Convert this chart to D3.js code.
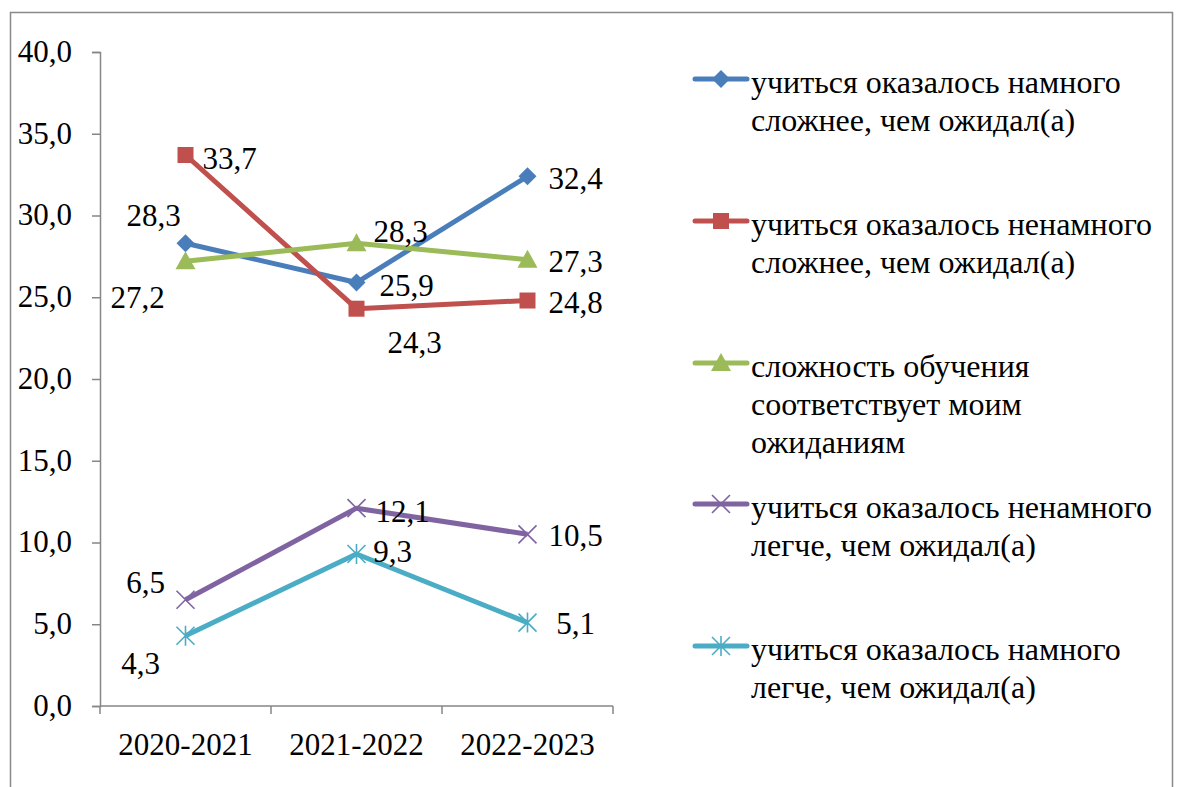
<!DOCTYPE html>
<html>
<head>
<script src="https://cdn.jsdelivr.net/npm/d3@7"></script>
</head>
<body style="margin:0">
<div id="chart"></div>
<script>
// data
var years = ["2020-2021", "2021-2022", "2022-2023"];
var seriesNames = [
  ["учиться оказалось намного", "сложнее, чем ожидал(а)"],
  ["учиться оказалось ненамного", "сложнее, чем ожидал(а)"],
  ["сложность обучения", "соответствует моим", "ожиданиям"],
  ["учиться оказалось ненамного", "легче, чем ожидал(а)"],
  ["учиться оказалось намного", "легче, чем ожидал(а)"]
];
var muchHarder = [28.3, 25.9, 32.4];
var slightlyHarder = [33.7, 24.3, 24.8];
var asExpected = [27.2, 28.3, 27.3];
var slightlyEasier = [6.5, 12.1, 10.5];
var muchEasier = [4.3, 9.3, 5.1];
var yTicks = [0, 5, 10, 15, 20, 25, 30, 35, 40];

var colors = ["#4A7EBB", "#C0504D", "#9BBB59", "#8064A2", "#4BACC6"];
var markers = ["diamond", "square", "triangle", "x", "star"];
// label offsets (dx, dy) relative to each point
var labelOffsets = [
  [[-32, -28], [50, 3], [48, 2]],
  [[44, 3], [58, 33], [48, 2]],
  [[-48, 36], [44, -12], [48, 1]],
  [[-40, -18], [46, 3], [48, 1]],
  [[-45, 27], [36, -3], [48, 1]]
];

var allSeries = [muchHarder, slightlyHarder, asExpected, slightlyEasier, muchEasier];
var FONT = "Liberation Serif";

var W = 1184, H = 787;
var svg = d3.select("#chart").append("svg")
    .attr("width", W)
    .attr("height", H);

// text drawn at 40px and scaled down to the wanted size
function addText(parent, px, py, str, size, anchor, dy) {
  var k = size / 40;
  parent.append("g")
      .attr("transform", "translate(" + px + "," + py + ") scale(" + k + ")")
    .append("text")
      .attr("dy", dy || 0)
      .attr("text-anchor", anchor || "start")
      .attr("font-family", FONT)
      .attr("font-size", 40)
      .attr("fill", "#000")
      .text(str);
}

// outer frame
svg.append("rect")
    .attr("x", 10.5).attr("y", 12.5)
    .attr("width", 1162).attr("height", 820)
    .attr("fill", "none")
    .attr("stroke", "#898989")
    .attr("stroke-width", 1.5);

var plot = {left: 100, right: 613, top: 52, bottom: 706};

var y = d3.scaleLinear()
    .domain([0, 40])
    .range([plot.bottom, plot.top]);

var x = d3.scaleBand()
    .domain(years)
    .range([plot.left, plot.right])
    .padding(0);

function cx(c) { return x(c) + x.bandwidth() / 2; }

var fmt = function(v) { return d3.format(".1f")(v).replace(".", ","); };

// y axis
var yAxis = svg.append("g")
    .attr("transform", "translate(" + plot.left + ",0)")
    .call(d3.axisLeft(y)
      .tickValues(yTicks)
      .tickSize(8));
yAxis.selectAll(".tick text").remove();
yAxis.select(".domain").attr("stroke", "#868686").attr("stroke-width", 1.5);
yAxis.selectAll(".tick line").attr("stroke", "#868686").attr("stroke-width", 1.5);
yTicks.forEach(function(t) {
  addText(svg, plot.left - 28, y(t), fmt(t), 31, "end", "0.32em");
});

// x axis
var xg = svg.append("g");
xg.append("line")
    .attr("x1", plot.left).attr("x2", plot.right)
    .attr("y1", plot.bottom).attr("y2", plot.bottom)
    .attr("stroke", "#868686").attr("stroke-width", 1.5);
var bounds = years.map(function(c) { return x(c); }).concat([x.range()[1]]);
xg.selectAll("line.tk")
  .data(bounds)
  .enter().append("line")
    .attr("class", "tk")
    .attr("x1", function(d) { return d; }).attr("x2", function(d) { return d; })
    .attr("y1", plot.bottom).attr("y2", plot.bottom + 8)
    .attr("stroke", "#868686").attr("stroke-width", 1.5);
years.forEach(function(c) {
  addText(xg, cx(c), plot.bottom + 49, c, 31, "middle", 0);
});

// marker drawing
function drawMarker(g, type, color, px, py) {
  if (type === "diamond") {
    g.append("path")
      .attr("d", "M" + px + "," + (py - 9) + "L" + (px + 9) + "," + py + "L" + px + "," + (py + 9) + "L" + (px - 9) + "," + py + "Z")
      .attr("fill", color);
  } else if (type === "square") {
    g.append("rect")
      .attr("x", px - 8).attr("y", py - 8)
      .attr("width", 16).attr("height", 16)
      .attr("fill", color);
  } else if (type === "triangle") {
    g.append("path")
      .attr("d", "M" + px + "," + (py - 10) + "L" + (px + 10) + "," + (py + 8) + "L" + (px - 10) + "," + (py + 8) + "Z")
      .attr("fill", color);
  } else if (type === "x") {
    g.append("path")
      .attr("d", "M" + (px - 9) + "," + (py - 9) + "L" + (px + 9) + "," + (py + 9) + "M" + (px + 9) + "," + (py - 9) + "L" + (px - 9) + "," + (py + 9))
      .attr("stroke", color).attr("stroke-width", 1.6).attr("fill", "none");
  } else if (type === "star") {
    g.append("path")
      .attr("d", "M" + (px - 9) + "," + (py - 9) + "L" + (px + 9) + "," + (py + 9) + "M" + (px + 9) + "," + (py - 9) + "L" + (px - 9) + "," + (py + 9) +
                 "M" + px + "," + (py - 10) + "L" + px + "," + (py + 10))
      .attr("stroke", color).attr("stroke-width", 1.6).attr("fill", "none");
  }
}

var line = d3.line()
    .x(function(d, i) { return cx(years[i]); })
    .y(function(d) { return y(d); });

allSeries.forEach(function(vals, s) {
  var g = svg.append("g");
  g.append("path")
    .datum(vals)
    .attr("d", line)
    .attr("fill", "none")
    .attr("stroke", colors[s])
    .attr("stroke-width", 5)
    .attr("stroke-linejoin", "round");
  vals.forEach(function(v, i) {
    drawMarker(g, markers[s], colors[s], cx(years[i]), y(v));
  });
});

// data labels on top
allSeries.forEach(function(vals, s) {
  vals.forEach(function(v, i) {
    var off = labelOffsets[s][i];
    addText(svg, cx(years[i]) + off[0], y(v) + off[1], fmt(v), 31, "middle", "0.35em");
  });
});

// legend
var legendTop = [82, 224, 366, 507, 649];
var legend = svg.append("g");
seriesNames.forEach(function(lines, s) {
  var ly = legendTop[s];
  legend.append("line")
    .attr("x1", 695).attr("x2", 747)
    .attr("y1", ly - 3).attr("y2", ly - 3)
    .attr("stroke", colors[s])
    .attr("stroke-width", 5)
    .attr("stroke-linecap", "round");
  drawMarker(legend, markers[s], colors[s], 721, ly - 3);
  lines.forEach(function(t, k) {
    addText(legend, 751, ly + k * 38, t, 32, "start", "0.35em");
  });
});
</script>
</body>
</html>
